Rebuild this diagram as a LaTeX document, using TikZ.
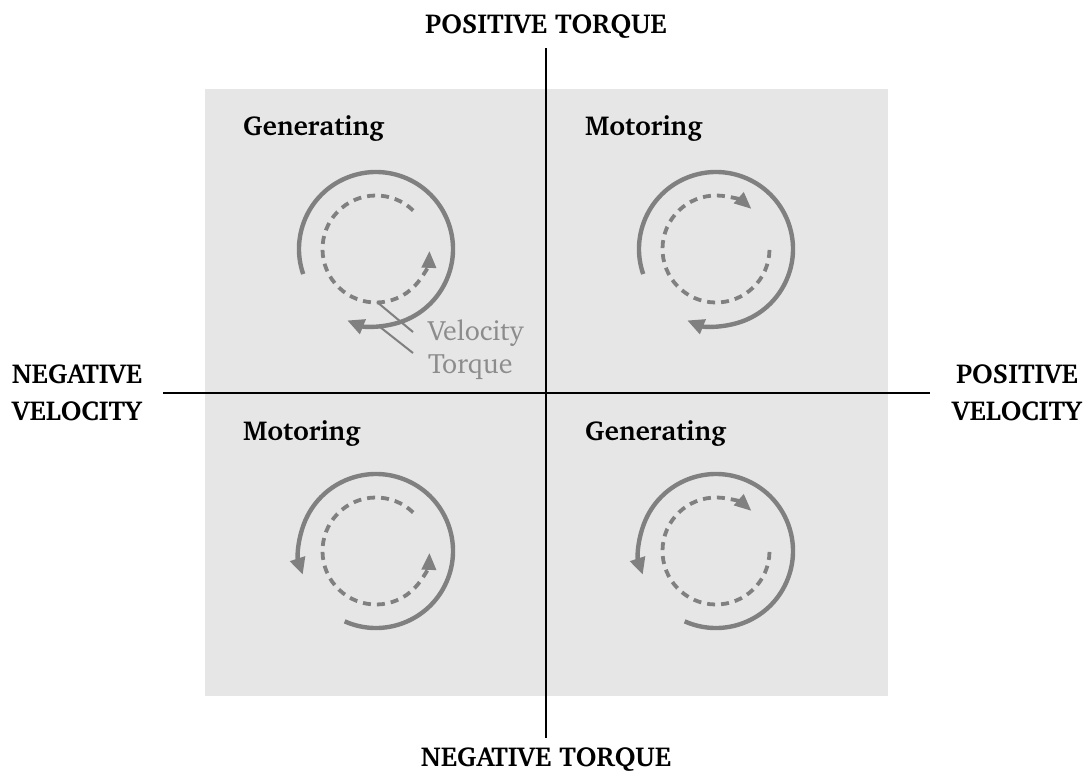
\documentclass[tikz,border=0pt]{standalone}
\usepackage[T1]{fontenc}
\usepackage{charter}
\usetikzlibrary{arrows.meta}
\definecolor{quadfill}{HTML}{E6E6E6}
\definecolor{circgray}{HTML}{808080}
\definecolor{lblgray}{HTML}{8C8C8C}
\tikzset{
  axislabel/.style={font=\fontsize{27.4}{32}\selectfont\bfseries, inner sep=0pt, text=black},
  quadlabel/.style={font=\fontsize{27.4}{32}\selectfont\bfseries, inner sep=0pt, anchor=base west},
  keylabel/.style={font=\fontsize{28}{32}\selectfont, inner sep=0pt, anchor=west, text=lblgray},
  axisline/.style={line width=1.8pt, black},
  torquearc/.style={draw=circgray, line width=4.4pt, -{Triangle[length=17pt,width=15pt]}},
  velarc/.style={draw=circgray, line width=3.8pt, dash pattern=on 8pt off 6pt, -{Triangle[length=17pt,width=14pt]}},
  leader/.style={draw=circgray, line width=2pt}
}
\begin{document}
\begin{tikzpicture}[x=1pt,y=1pt]
\useasboundingbox (0,0) rectangle (1088,-772);
% shaded field
\fill[quadfill] (205,-89) rectangle (888,-696);
% axes
\coordinate (ttop) at (546,-48);
\coordinate (tbot) at (546,-738);
\coordinate (vleft) at (163,-393);
\coordinate (vright) at (930,-393);
\draw[axisline] (ttop) -- (tbot);
\draw[axisline] (vleft) -- (vright);
% axis labels
\node[axislabel, anchor=base] (postorque) at (546,-33) {POSITIVE TORQUE};
\node[axislabel, anchor=base] (negtorque) at (546,-766) {NEGATIVE TORQUE};
\node[axislabel, anchor=base] (negv1) at (77,-383) {NEGATIVE};
\node[axislabel, anchor=base] (negv2) at (77,-420) {VELOCITY};
\node[axislabel, anchor=base] (posv1) at (1017,-383) {POSITIVE};
\node[axislabel, anchor=base] (posv2) at (1017,-420) {VELOCITY};
% quadrant labels
\node[quadlabel] (q2) at (243,-135) {Generating};
\node[quadlabel] (q1) at (585,-135) {Motoring};
\node[quadlabel] (q3) at (243,-440) {Motoring};
\node[quadlabel] (q4) at (585,-440) {Generating};
% circle centres
\coordinate (cTL) at (376,-249);
\coordinate (cTR) at (716,-249);
\coordinate (cBL) at (376,-551);
\coordinate (cBR) at (716,-551);
% top-left: generating (torque CW, velocity CCW)
\draw[torquearc] (cTL) ++(199:77) arc[start angle=199, end angle=-112, radius=77];
\draw[velarc] (cTL) ++(46:53.5) arc[start angle=46, end angle=358, radius=53.5];
% top-right: motoring (both CW)
\draw[torquearc] (cTR) ++(199:77) arc[start angle=199, end angle=-112, radius=77];
\draw[velarc] (cTR) ++(-1:53.5) arc[start angle=-1, end angle=-311.5, radius=53.5];
% bottom-left: motoring (both CCW)
\draw[torquearc] (cBL) ++(246:77) arc[start angle=246, end angle=558, radius=77];
\draw[velarc] (cBL) ++(46:53.5) arc[start angle=46, end angle=358, radius=53.5];
% bottom-right: generating (torque CCW, velocity CW)
\draw[torquearc] (cBR) ++(246:77) arc[start angle=246, end angle=558, radius=77];
\draw[velarc] (cBR) ++(-1:53.5) arc[start angle=-1, end angle=-311.5, radius=53.5];
% key
\node[keylabel] (velkey) at (428,-333) {Velocity};
\node[keylabel] (torkey) at (428,-367) {Torque};
\coordinate (velpt) at (377,-302);
\coordinate (torpt) at (380,-327);
\draw[leader] (velpt) -- (413,-332);
\draw[leader] (torpt) -- (413,-353);
\end{tikzpicture}
\end{document}
